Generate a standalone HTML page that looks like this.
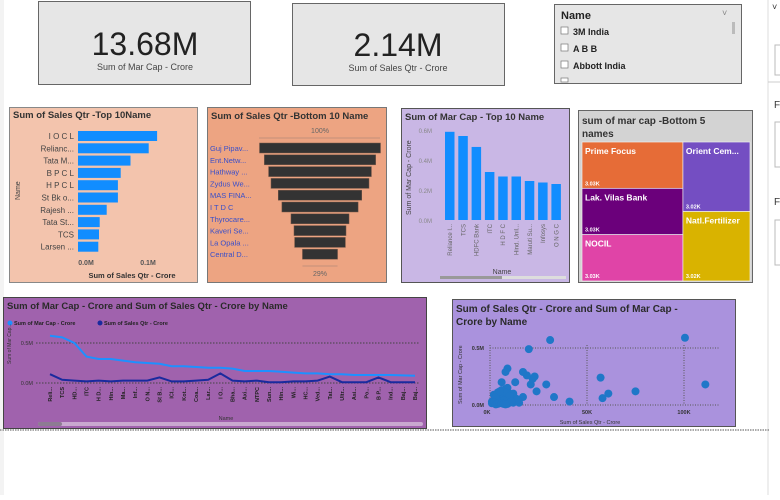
<!DOCTYPE html>
<html><head><meta charset="utf-8"><style>
body{margin:0;width:780px;height:495px;overflow:hidden;background:#fff;font-family:"Liberation Sans",sans-serif}
svg text{font-family:"Liberation Sans",sans-serif}
.num{font-family:"Liberation Sans Narrow","Liberation Sans",sans-serif}
</style></head><body>
<svg id="s" width="780" height="495" viewBox="0 0 780 495" xmlns="http://www.w3.org/2000/svg">
<rect x="0" y="0" width="780" height="495" fill="#fff"/>
<rect x="0" y="0" width="4" height="495" fill="#f3f3f3"/>
<g>
<rect x="768" y="0" width="12" height="495" fill="#fff"/>
<line x1="768" y1="0" x2="768" y2="495" stroke="#ddd"/>
<text x="772" y="10" font-size="9" fill="#333">˅</text>
<rect x="775" y="45" width="10" height="30" fill="none" stroke="#bbb"/>
<line x1="768" y1="82" x2="780" y2="82" stroke="#ccc"/>
<text x="774" y="108" font-size="10" fill="#333">F</text>
<rect x="775" y="122" width="10" height="45" fill="none" stroke="#bbb"/>
<text x="774" y="205" font-size="10" fill="#333">F</text>
<rect x="775" y="220" width="10" height="45" fill="none" stroke="#bbb"/>
</g>
<g>
<rect x="38.5" y="1.5" width="212" height="83" fill="#e6e6e6" stroke="#666"/>
<text class="num" x="145" y="55" font-size="32" text-anchor="middle" fill="#222">13.68M</text>
<text class="num" x="145" y="70" font-size="9" text-anchor="middle" fill="#444">Sum of Mar Cap - Crore</text>
</g>
<g>
<rect x="292.5" y="3.5" width="212" height="82" fill="#e6e6e6" stroke="#666"/>
<text class="num" x="398" y="56" font-size="32" text-anchor="middle" fill="#222">2.14M</text>
<text class="num" x="398" y="71" font-size="9" text-anchor="middle" fill="#444">Sum of Sales Qtr - Crore</text>
</g>
<g>
<rect x="554.5" y="4.5" width="187" height="79" fill="#e6e6e6" stroke="#666"/>
<text x="561" y="19" font-size="11" font-weight="bold" fill="#222">Name</text>
<text x="722" y="16" font-size="9" fill="#888">˅</text>
<rect x="732" y="22" width="3" height="12" fill="#bbb"/>
<rect x="561" y="27" width="7" height="7" fill="#fff" stroke="#777" stroke-width="0.7"/><text x="573" y="35" font-size="9" font-weight="600" fill="#222">3M India</text>
<rect x="561" y="44" width="7" height="7" fill="#fff" stroke="#777" stroke-width="0.7"/><text x="573" y="52" font-size="9" font-weight="600" fill="#222">A B B</text>
<rect x="561" y="61" width="7" height="7" fill="#fff" stroke="#777" stroke-width="0.7"/><text x="573" y="69" font-size="9" font-weight="600" fill="#222">Abbott India</text>
<rect x="561" y="78" width="7" height="4" fill="#fff" stroke="#777" stroke-width="0.7"/>
</g>
<g>
<rect x="9.5" y="107.5" width="188" height="175" fill="#f3c4ad" stroke="#888"/>
<text x="13" y="118" font-size="9.5" font-weight="bold" fill="#333">Sum of Sales Qtr -Top 10Name</text>
<text x="20" y="200" font-size="7" fill="#444" transform="rotate(-90 20 200)">Name</text>
<text x="86" y="265" font-size="7" font-weight="bold" fill="#555" text-anchor="middle">0.0M</text>
<text x="148" y="265" font-size="7" font-weight="bold" fill="#555" text-anchor="middle">0.1M</text>
<text x="132" y="278" font-size="7.5" font-weight="bold" fill="#333" text-anchor="middle">Sum of Sales Qtr - Crore</text>
<g id="g1"></g>
</g>
<g>
<rect x="207.5" y="107.5" width="179" height="175" fill="#eda482" stroke="#777"/>
<text x="211" y="119" font-size="9.5" font-weight="bold" fill="#333">Sum of Sales Qtr -Bottom 10 Name</text>
<text x="320" y="133" font-size="7" fill="#666" text-anchor="middle">100%</text>
<line x1="259" y1="138" x2="380" y2="138" stroke="#b58a78" stroke-width="0.7"/>
<g id="g2"></g>
</g>
<g>
<rect x="401.5" y="108.5" width="168" height="174" fill="#c9b7e5" stroke="#555"/>
<text x="405" y="120" font-size="9.5" font-weight="bold" fill="#333">Sum of Mar Cap - Top 10 Name</text>
<text x="411" y="215" font-size="7" fill="#444" transform="rotate(-90 411 215)">Sum of Mar Cap - Crore</text>
<text x="502" y="274" font-size="7" fill="#444" text-anchor="middle">Name</text>
<rect x="440" y="276" width="126" height="3" fill="#ddd"/>
<rect x="440" y="276" width="62" height="3" fill="#999"/>
<g id="g3"></g>
</g>
<g>
<rect x="578.5" y="110.5" width="174" height="172" fill="#d3d3d3" stroke="#666"/>
<text x="582" y="124" font-size="10" font-weight="bold" fill="#333">sum of mar cap -Bottom 5</text>
<text x="582" y="137" font-size="10" font-weight="bold" fill="#333">names</text>
<g id="g4"></g>
</g>
<g>
<rect x="3.5" y="297.5" width="423" height="131" fill="#a062ad" stroke="#444"/>
<text x="7" y="309" font-size="9.5" font-weight="bold" fill="#2a2a2a">Sum of Mar Cap - Crore and Sum of Sales Qtr - Crore by Name</text>
<circle cx="10" cy="323" r="2.5" fill="#1e90ff"/><text x="14" y="325" font-size="5.5" font-weight="bold" fill="#222">Sum of Mar Cap - Crore</text>
<circle cx="100" cy="323" r="2.5" fill="#1a2a9e"/><text x="104" y="325" font-size="5.5" font-weight="bold" fill="#222">Sum of Sales Qtr - Crore</text>
<text x="11" y="364" font-size="5" fill="#333" transform="rotate(-90 11 364)">Sum of Mar Cap...</text>
<text x="226" y="420" font-size="5.5" fill="#333" text-anchor="middle">Name</text>
<rect x="38" y="422" width="385" height="4" rx="2" fill="#c9a9d0"/>
<rect x="38" y="422" width="24" height="4" rx="2" fill="#8d7b93"/>
<g id="g5"></g>
</g>
<g>
<rect x="452.5" y="299.5" width="283" height="127" fill="#aa92dd" stroke="#555"/>
<text x="456" y="312" font-size="10" font-weight="bold" fill="#2a2a2a">Sum of Sales Qtr - Crore and Sum of Mar Cap -</text>
<text x="456" y="325" font-size="10" font-weight="bold" fill="#2a2a2a">Crore by Name</text>
<text x="462" y="404" font-size="5.5" fill="#333" transform="rotate(-90 462 404)">Sum of Mar Cap - Crore</text>
<text x="590" y="424" font-size="5.5" fill="#333" text-anchor="middle">Sum of Sales Qtr - Crore</text>
<g id="g6"></g>
</g>
<line x1="0" y1="430" x2="770" y2="430" stroke="#555" stroke-dasharray="1.5,1" stroke-width="1"/>
</svg>
<script>
const NS="http://www.w3.org/2000/svg";
function mk(p,t,a){const e=document.createElementNS(NS,t);for(const k in a)e.setAttribute(k,a[k]);p.appendChild(e);return e;}
function tx(p,x,y,s,a){const e=mk(p,'text',Object.assign({x:x,y:y},a));e.textContent=s;return e;}

const topSalesNames=["I O C L","Relianc...","Tata M...","B P C L","H P C L","St Bk o...","Rajesh ...","Tata St...","TCS","Larsen ..."];
const topSalesValues=[0.113,0.101,0.075,0.061,0.057,0.057,0.041,0.031,0.030,0.029];
const bottomSalesNames=["Guj Pipav...","Ent.Netw...","Hathway ...","Zydus We...","MAS FINA...","I T D C","Thyrocare...","Kaveri Se...","La Opala ...","Central D..."];
const bottomSalesPct=[100,92,85,81,69,63,48,43,42,29];
const topCapNames=["Reliance I...","TCS","HDFC Bank","ITC","H D F C","Hind. Unil...","Maruti Su...","Infosys","O N G C"];
const topCapValues=[0.588,0.56,0.487,0.32,0.29,0.29,0.26,0.25,0.24];
const capTicks=[0,0.2,0.4,0.6];
const capTickLabels=["0.0M","0.2M","0.4M","0.6M"];
const treeNames=["Prime Focus","Lak. Vilas Bank","NOCIL","Orient Cem...","Natl.Fertilizer"];
const treeLabels=["3.03K","3.03K","3.03K","3.02K","3.02K"];
const treeValues=[3.03,3.03,3.03,3.02,3.02];
const treeColors=["#e66c37","#6b007b","#e044a7","#744ec2","#d9b300"];
const lineNames=["Reli...","TCS","HD...","ITC","H D...","Hin...","Ma...","Inf...","O N...","St B...","ICI...","Kot...","Coa...","Lar...","I O...","Bha...","Axi...","NTPC","Sun...","Hin...","Wi...","HC...","Ved...","Tat...","Ultr...","Asi...","Po...","B P...","Ind...","Baj...","Baj..."];
const lineCap=[0.59,0.57,0.5,0.33,0.3,0.3,0.28,0.26,0.25,0.24,0.21,0.21,0.2,0.19,0.19,0.18,0.15,0.15,0.15,0.14,0.13,0.12,0.12,0.11,0.11,0.1,0.1,0.1,0.1,0.095,0.09];
const lineSales=[0.11,0.04,0.03,0.02,0.03,0.02,0.03,0.03,0.03,0.07,0.02,0.02,0.03,0.04,0.12,0.03,0.02,0.03,0.01,0.01,0.02,0.02,0.03,0.08,0.01,0.01,0.01,0.07,0.01,0.01,0.01];
const lineTicks=[0,0.5];
const lineTickLabels=["0.0M","0.5M"];
const scatterSales=[31,100.5,20,111,57,75,61,58,41,33,29,24,23,21,22,19,17,9,8,13,6,17,2,3,4,5,6,7,8,9,10,11,12,3,4,5,6,7,8,9,10,11,12,13,14,15,2,4,6,8,10,12,14,1,3,5,7,9,11,1,2,3,4,5,6,7,8];
const scatterCap=[0.57,0.59,0.49,0.18,0.24,0.12,0.1,0.06,0.03,0.07,0.18,0.12,0.25,0.18,0.23,0.26,0.29,0.32,0.29,0.2,0.2,0.07,0.02,0.03,0.05,0.08,0.1,0.12,0.14,0.15,0.1,0.07,0.05,0.01,0.02,0.04,0.06,0.08,0.05,0.03,0.02,0.04,0.1,0.06,0.03,0.02,0.09,0.11,0.13,0.11,0.08,0.02,0.05,0.03,0.07,0.12,0.04,0.01,0.03,0.015,0.025,0.005,0.01,0.02,0.015,0.01,0.005];
const scatterXTicks=[0,50,100];
const scatterXLabels=["0K","50K","100K"];
const scatterYTicks=[0,0.5];
const scatterYLabels=["0.0M","0.5M"];

(function(){const g=document.getElementById('g1');
const x=v=>78+v*700, y=i=>131+i*12.3;
topSalesNames.forEach((n,i)=>{
 const r=mk(g,'rect',{x:x(0),y:y(i),width:x(topSalesValues[i])-x(0),height:10,fill:"#118dff"});
 
 
 tx(g,74,y(i)+8,n,{"font-size":"8",fill:"#444","text-anchor":"end"});
});})();
(function(){const g=document.getElementById('g2');
const w=p=>p/100*121, y=i=>143+i*11.8;
bottomSalesNames.forEach((n,i)=>{
 const ww=w(bottomSalesPct[i]);
 const r=mk(g,'rect',{x:320-ww/2,y:y(i),width:ww,height:10,fill:"#333",stroke:"#7a5a4a","stroke-width":"0.5"});
 
 
 tx(g,210,y(i)+8,n,{"font-size":"7.5",fill:"#3a4fc9"});
});
const last=w(bottomSalesPct[bottomSalesPct.length-1]);
mk(g,'line',{x1:320-last/2,y1:266,x2:320+last/2,y2:266,stroke:"#b58a78","stroke-width":"0.7"});
tx(g,320,276,bottomSalesPct[bottomSalesPct.length-1]+"%",{"font-size":"7",fill:"#666","text-anchor":"middle"});
})();
(function(){const g=document.getElementById('g3');
const y=v=>220-v/0.6*90, x=i=>445+i*13.3;
capTicks.forEach((t,i)=>tx(g,432,y(t)+3,capTickLabels[i],{"font-size":"6",fill:"#888","text-anchor":"end"}));
topCapNames.forEach((n,i)=>{
 const r=mk(g,'rect',{x:x(i),y:y(topCapValues[i]),width:9.5,height:y(0)-y(topCapValues[i]),fill:"#118dff"});
 
 
 tx(g,x(i)+7,224,n,{"font-size":"6",fill:"#666","text-anchor":"end",transform:`rotate(-90 ${x(i)+7} 224)`});
});})();
(function(){const g=document.getElementById('g4');
const X0=582,Y0=142,W=168,H=139;
const tot=treeValues.reduce((a,b)=>a+b,0);
const left=treeValues.slice(0,3).reduce((a,b)=>a+b,0);
const lw=W*left/tot;
let yy=Y0;
treeNames.forEach((n,i)=>{
 let x,w,h,y;
 if(i<3){x=X0;w=lw;h=H*treeValues[i]/left;y=yy;yy+=h;if(i==2)yy=Y0;}
 else{x=X0+lw;w=W-lw;const rs=treeValues.slice(3).reduce((a,b)=>a+b,0);h=H*treeValues[i]/rs;y=yy;yy+=h;}
 const r=mk(g,'rect',{x:x,y:y,width:w,height:h,fill:treeColors[i],stroke:"#eee","stroke-width":"0.7"});
 
 
 tx(g,x+3,y+12,n,{"font-size":"8.5","font-weight":"bold",fill:"#fff"});
 tx(g,x+3,y+h-3,treeLabels[i],{"font-size":"5.5","font-weight":"bold",fill:"#fff"});
});})();
(function(){const g=document.getElementById('g5');
const y=v=>383-v/0.5*40, x=i=>50+i*(365/(lineNames.length-1));
lineTicks.forEach((t,i)=>{mk(g,'line',{x1:36,y1:y(t),x2:420,y2:y(t),stroke:"#444","stroke-dasharray":"1.5,1.5","stroke-width":"1"});
 tx(g,33,y(t)+2,lineTickLabels[i],{"font-size":"5.5",fill:"#333","text-anchor":"end"});});
const p1=mk(g,'polyline',{points:lineCap.map((v,i)=>x(i)+","+y(v)).join(" "),fill:"none",stroke:"#1e90ff","stroke-width":"2"});


const p2=mk(g,'polyline',{points:lineSales.map((v,i)=>x(i)+","+y(v)).join(" "),fill:"none",stroke:"#1a2a9e","stroke-width":"2"});


lineNames.forEach((n,i)=>tx(g,x(i)+2,387,n,{"font-size":"5.5","font-weight":"bold",fill:"#222","text-anchor":"end",transform:`rotate(-90 ${x(i)+2} 387)`}));
})();
(function(){const g=document.getElementById('g6');
const x=v=>490+v/50*97, y=v=>405-v/0.5*57;
scatterXTicks.forEach((t,i)=>{mk(g,'line',{x1:x(t),y1:345,x2:x(t),y2:405,stroke:"#555","stroke-dasharray":"1,1.5"});
 tx(g,x(t)+(i==0?-3:0),414,scatterXLabels[i],{"font-size":"5.5","font-weight":"bold",fill:"#333","text-anchor":"middle"});});
scatterYTicks.forEach((t,i)=>{mk(g,'line',{x1:490,y1:y(t),x2:720,y2:y(t),stroke:"#555","stroke-dasharray":"1,1.5"});
 tx(g,484,y(t)+2,scatterYLabels[i],{"font-size":"5.5","font-weight":"bold",fill:"#333","text-anchor":"end"});});
scatterSales.forEach((v,i)=>{
 const c=mk(g,'circle',{cx:x(v),cy:y(scatterCap[i]),r:4,fill:"#1f77c8"});
 
 
});})();
</script>
</body></html>
